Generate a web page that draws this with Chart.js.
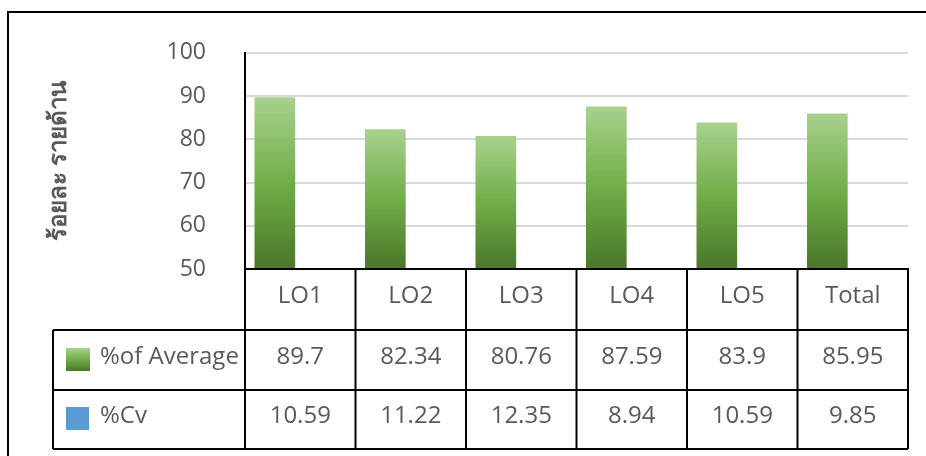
<!DOCTYPE html>
<html>
<head>
<meta charset="utf-8">
<script src="https://cdn.jsdelivr.net/npm/chart.js@4"></script>
<style>
  html, body { margin: 0; padding: 0; background: #fff; }
  #wrap { width: 926px; height: 456px; }
</style>
</head>
<body>
<div id="wrap"><canvas id="c"></canvas></div>
<script>
// data
const categories = ['LO1', 'LO2', 'LO3', 'LO4', 'LO5', 'Total'];
const avgLabel = '%of Average';
const cvLabel = '%Cv';
const avgValues = [89.7, 82.34, 80.76, 87.59, 83.9, 85.95];
const cvValues = [10.59, 11.22, 12.35, 8.94, 10.59, 9.85];
const avgText = ['89.7', '82.34', '80.76', '87.59', '83.9', '85.95'];
const cvText = ['10.59', '11.22', '12.35', '8.94', '10.59', '9.85'];
const yTitle = 'ร้อยละ รายด้าน';

const textColor = '#595959';
const fontFamily = "'Open Sans', 'Noto Sans', sans-serif";

function greenGradient(ctx, top, bottom) {
  const g = ctx.createLinearGradient(0, top, 0, bottom);
  g.addColorStop(0, '#a9d18e');
  g.addColorStop(0.5, '#70ad47');
  g.addColorStop(1, '#4a7729');
  return g;
}

// frame + data table under the plot
const tablePlugin = {
  id: 'dataTable',
  beforeDraw(chart) {
    const ctx = chart.ctx;
    ctx.save();
    ctx.strokeStyle = '#000';
    ctx.lineWidth = 2;
    ctx.beginPath();
    ctx.moveTo(8, 456);
    ctx.lineTo(8, 12);
    ctx.lineTo(926, 12);
    ctx.stroke();
    ctx.restore();
  },
  afterDraw(chart) {
    const ctx = chart.ctx;
    const x = chart.scales.x;
    const area = chart.chartArea;
    const half = (x.getPixelForValue(1) - x.getPixelForValue(0)) / 2;
    const left = x.getPixelForValue(0) - half;
    const right = x.getPixelForValue(categories.length - 1) + half;
    const labelLeft = 53;
    const rowH = 60;
    const r0 = area.bottom, r1 = r0 + 61, r2 = r1 + rowH, r3 = r2 + rowH - 1;
    const dy = -3;

    ctx.save();
    ctx.strokeStyle = '#000';
    ctx.lineWidth = 2;
    ctx.beginPath();
    // horizontals
    ctx.moveTo(left, r0); ctx.lineTo(right, r0);
    ctx.moveTo(labelLeft, r1); ctx.lineTo(right, r1);
    ctx.moveTo(labelLeft, r2); ctx.lineTo(right, r2);
    ctx.moveTo(labelLeft, r3); ctx.lineTo(right, r3);
    // verticals
    ctx.moveTo(labelLeft, r1); ctx.lineTo(labelLeft, r3);
    for (let i = 0; i <= categories.length; i++) {
      const px = i < categories.length ? x.getPixelForValue(i) - half : right;
      ctx.moveTo(px, r0); ctx.lineTo(px, r3);
    }
    ctx.stroke();

    ctx.fillStyle = textColor;
    ctx.font = '24px ' + fontFamily;
    ctx.textAlign = 'center';
    ctx.textBaseline = 'middle';
    categories.forEach((c, i) => {
      const cx = x.getPixelForValue(i);
      ctx.fillText(c, cx, (r0 + r1) / 2 + dy);
      ctx.fillText(avgText[i], cx, (r1 + r2) / 2 + dy);
      ctx.fillText(cvText[i], cx, (r2 + r3) / 2 + dy);
    });

    // legend keys
    ctx.fillStyle = greenGradient(ctx, r1 + 18, r1 + 41);
    ctx.fillRect(66, r1 + 18, 24, 23);
    ctx.fillStyle = '#5b9bd5';
    ctx.fillRect(66, r2 + 17, 23, 23);
    ctx.fillStyle = textColor;
    ctx.textAlign = 'left';
    ctx.fillText(avgLabel, 100, (r1 + r2) / 2 + dy);
    ctx.fillText(cvLabel, 100, (r2 + r3) / 2 + dy);
    ctx.restore();
  }
};

new Chart(document.getElementById('c'), {
  type: 'bar',
  data: {
    labels: categories,
    datasets: [
      {
        label: avgLabel,
        data: avgValues,
        backgroundColor: (context) => {
          const chart = context.chart;
          const area = chart.chartArea;
          if (!area || context.type !== 'data') return '#70ad47';
          const top = chart.scales.y.getPixelForValue(context.raw);
          return greenGradient(chart.ctx, top, area.bottom);
        },
        categoryPercentage: 0.92,
        barPercentage: 0.8
      },
      {
        label: cvLabel,
        data: cvValues,
        backgroundColor: '#5b9bd5',
        categoryPercentage: 0.92,
        barPercentage: 0.8,
        clip: 0
      }
    ]
  },
  options: {
    responsive: true,
    maintainAspectRatio: false,
    animation: false,
    layout: { padding: { left: 45, right: 18, top: 51, bottom: 179 } },
    plugins: {
      legend: { display: false },
      tooltip: { enabled: false }
    },
    scales: {
      x: {
        grid: { display: false },
        ticks: { display: false },
        border: { display: true, color: '#000', width: 2 }
      },
      y: {
        min: 50,
        max: 100,
        ticks: {
          stepSize: 10,
          padding: 39,
          color: textColor,
          font: { family: fontFamily, size: 23 }
        },
        grid: { color: '#d9d9d9', lineWidth: 2, drawTicks: false },
        border: { display: true, color: '#000', width: 2 },
        title: {
          display: true,
          text: yTitle,
          color: textColor,
          font: { family: fontFamily, size: 24, weight: 'bold' },
          padding: 0
        },
        afterFit(scale) { scale.width = 200; }
      }
    }
  },
  plugins: [tablePlugin]
});
</script>
</body>
</html>
